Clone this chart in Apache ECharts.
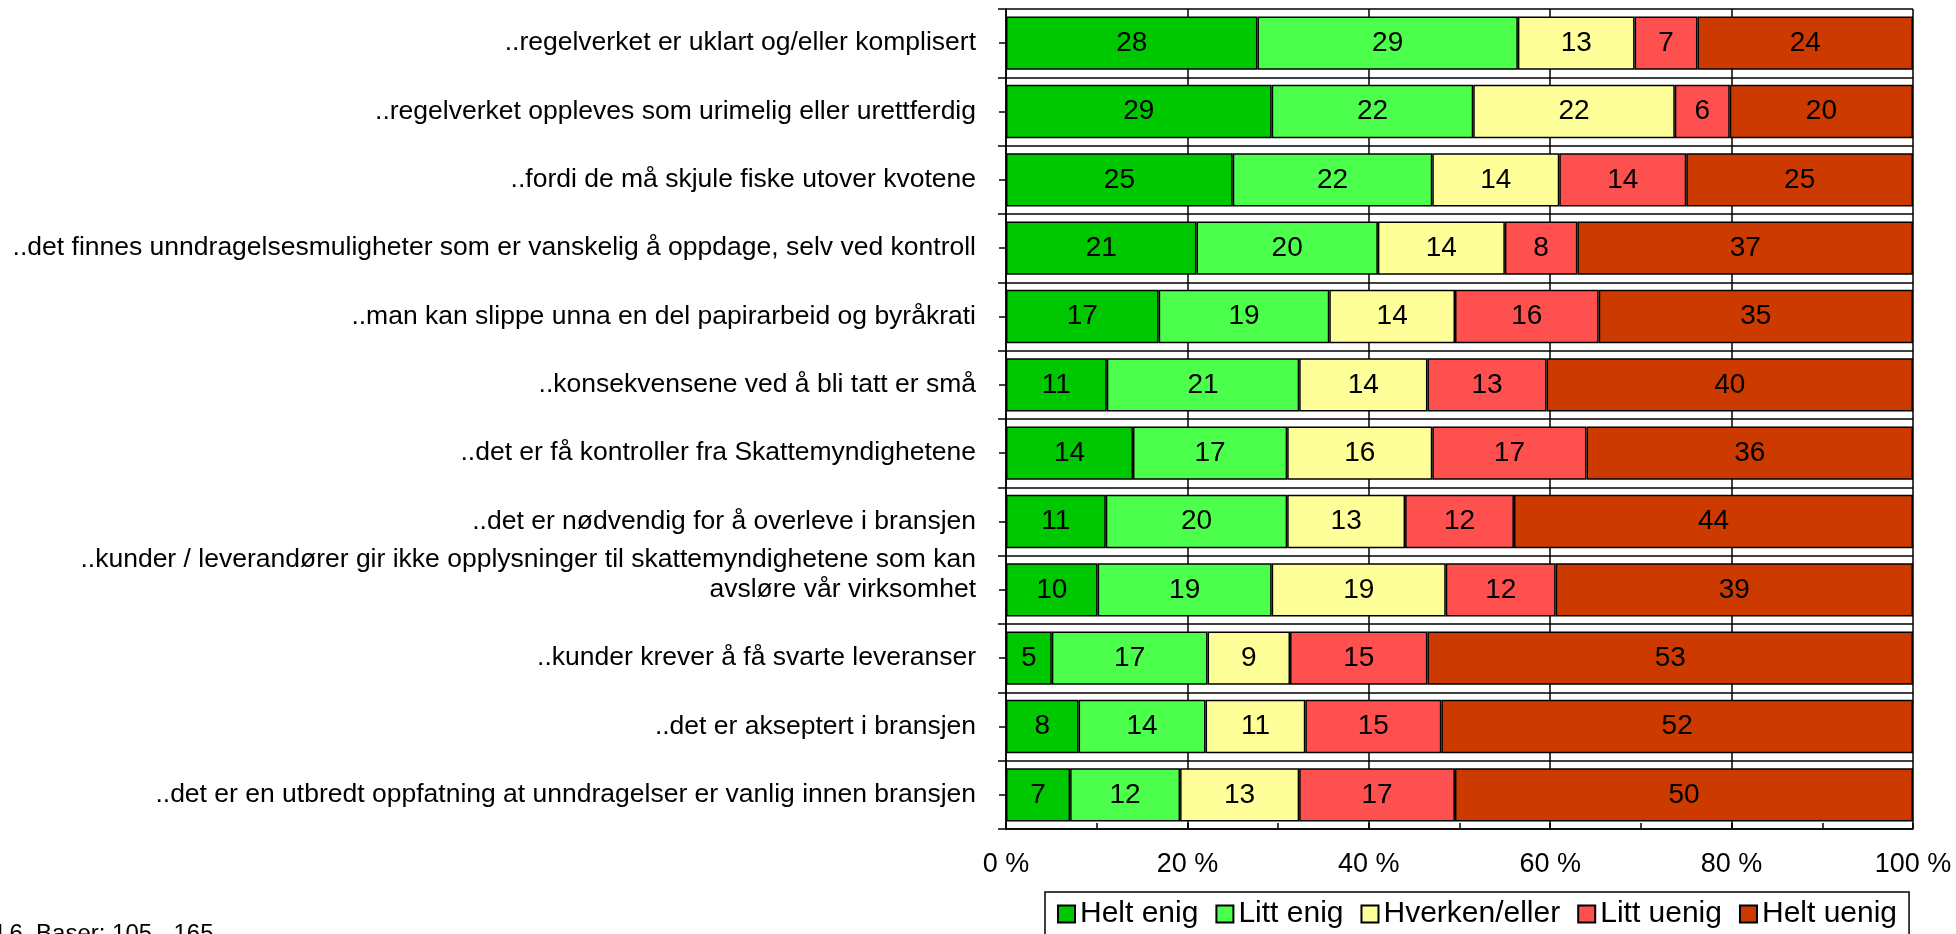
<!DOCTYPE html>
<html>
<head>
<meta charset="utf-8">
<script src="https://cdn.jsdelivr.net/npm/echarts@6/dist/echarts.min.js"></script>
<style>
  html, body { margin: 0; padding: 0; background: #fff; }
  #main { width: 1956px; height: 934px; }
</style>
</head>
<body>
<div id="main"></div>
<script>
var categories = [
    '..regelverket er uklart og/eller komplisert',
    '..regelverket oppleves som urimelig eller urettferdig',
    '..fordi de må skjule fiske utover kvotene',
    '..det finnes unndragelsesmuligheter som er vanskelig å oppdage, selv ved kontroll',
    '..man kan slippe unna en del papirarbeid og byråkrati',
    '..konsekvensene ved å bli tatt er små',
    '..det er få kontroller fra Skattemyndighetene',
    '..det er nødvendig for å overleve i bransjen',
    '..kunder / leverandører gir ikke opplysninger til skattemyndighetene som kan\navsløre vår virksomhet',
    '..kunder krever å få svarte leveranser',
    '..det er akseptert i bransjen',
    '..det er en utbredt oppfatning at unndragelser er vanlig innen bransjen'
];
var seriesNames = ['Helt enig', 'Litt enig', 'Hverken/eller', 'Litt uenig', 'Helt uenig'];
var heltEnig  = [28, 29, 25, 21, 17, 11, 14, 11, 10, 5, 8, 7];
var littEnig  = [29, 22, 22, 20, 19, 21, 17, 20, 19, 17, 14, 12];
var hverken   = [13, 22, 14, 14, 14, 14, 16, 13, 19, 9, 11, 13];
var littUenig = [7, 6, 14, 8, 16, 13, 17, 12, 12, 15, 15, 17];
var heltUenig = [24, 20, 25, 37, 35, 40, 36, 44, 39, 53, 52, 50];
var xTicks = [0, 20, 40, 60, 80, 100];
var footnote = 'Tabell 6. Baser: 105 - 165';

var colors = ['#00C800', '#4CFF4C', '#FFFF99', '#FF5050', '#CC3A00'];
var font = "'Liberation Sans', Arial, sans-serif";
var allRows = [heltEnig, littEnig, hverken, littUenig, heltUenig];

// each bar is stretched to 100 % like the original
var rowSums = categories.map(function (c, i) {
    var s = 0;
    allRows.forEach(function (r) { s += r[i]; });
    return s;
});

var series = allRows.map(function (raw, k) {
    return {
        name: seriesNames[k],
        type: 'bar',
        stack: 'total',
        barCategoryGap: '22%',
        itemStyle: { color: colors[k], borderColor: '#000', borderWidth: 1.5 },
        label: {
            show: true,
            position: 'inside',
            color: '#000',
            fontSize: 28,
            fontFamily: font,
            formatter: function (p) { return raw[p.dataIndex]; }
        },
        data: raw.map(function (v, i) { return v / rowSums[i] * 100; })
    };
});

var chart = echarts.init(document.getElementById('main'));
chart.setOption({
    animation: false,
    textStyle: { fontFamily: font },
    grid: { left: 1006, right: 43, top: 9, bottom: 105 },
    legend: {
        data: seriesNames,
        left: 1045,
        top: 892,
        icon: 'rect',
        itemWidth: 17,
        itemHeight: 17,
        itemGap: 17,
        padding: [7, 12, 7, 12],
        borderColor: '#000',
        borderWidth: 1.5,
        textStyle: { fontSize: 30, color: '#000', fontFamily: font }
    },
    xAxis: {
        type: 'value',
        min: xTicks[0],
        max: xTicks[xTicks.length - 1],
        interval: 20,
        axisLine: { show: true, lineStyle: { color: '#000', width: 1.5 } },
        axisTick: { show: true, inside: true, length: 6, lineStyle: { color: '#000', width: 1.5 } },
        minorTick: { show: true, splitNumber: 2, length: 6, lineStyle: { color: '#000', width: 1.5 } },
        splitLine: { show: true, lineStyle: { color: '#000', width: 1.5 } },
        axisLabel: {
            color: '#000',
            fontSize: 27,
            margin: 22,
            formatter: function (v) { return v + ' %'; }
        }
    },
    yAxis: [
        {
            type: 'category',
            inverse: true,
            data: categories,
            position: 'left',
            axisLine: { show: true, lineStyle: { color: '#000', width: 1.5 } },
            axisTick: { show: true, length: 8, lineStyle: { color: '#000', width: 1.5 } },
            splitLine: { show: true, lineStyle: { color: '#000', width: 1.5 } },
            axisLabel: {
                color: '#000',
                fontSize: 26.5,
                margin: 30,
                lineHeight: 30,
                align: 'right',
                // two-line label sits higher in the original, pad with a blank line
                formatter: function (v) { return v.indexOf('\n') >= 0 ? v + '\n ' : v; }
            }
        },
        {
            type: 'category',
            inverse: true,
            data: categories,
            position: 'left',
            offset: 0,
            axisLine: { show: false },
            axisTick: { show: true, alignWithLabel: true, length: 7, lineStyle: { color: '#000', width: 1.5 } },
            axisLabel: { show: false },
            splitLine: { show: false }
        }
    ],
    graphic: [
        {
            type: 'text',
            left: -60,
            top: 922,
            style: { text: footnote, fontSize: 24, fill: '#000', fontFamily: font }
        }
    ],
    series: series
});
</script>
</body>
</html>
